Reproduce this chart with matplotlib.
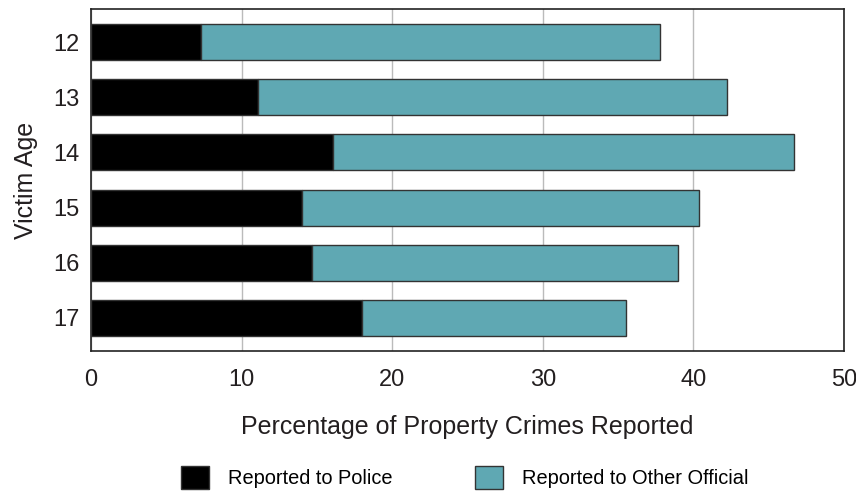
import matplotlib.pyplot as plt
import numpy as np

plt.rcParams['font.family'] = ['Liberation Sans', 'DejaVu Sans']

ages = ['12', '13', '14', '15', '16', '17']
police = [7.3, 11.1, 16.1, 14.0, 14.7, 18.0]
other = [30.45, 31.1, 30.6, 26.35, 24.3, 17.5]

teal = '#5fa8b3'
txt = '#231f20'

fig = plt.figure(figsize=(8.56, 4.91), dpi=100)
ax = fig.add_axes([0.1063, 0.2851, 0.8797, 0.6966])

y = np.arange(len(ages))
ax.barh(y, police, height=0.65, color='black', edgecolor='#333333', linewidth=1,
        label='Reported to Police', zorder=3)
ax.barh(y, other, left=police, height=0.65, color=teal, edgecolor='#333333',
        linewidth=1, label='Reported to Other Official', zorder=3)

ax.set_xlim(0, 50)
ax.set_ylim(5.6, -0.6)
ax.set_yticks(y)
ax.set_yticklabels(ages)
ax.set_xticks([0, 10, 20, 30, 40, 50])
ax.tick_params(length=0, labelsize=17, colors=txt, pad=8)
ax.tick_params(axis='x', pad=13)
ax.grid(axis='x', color='#bbbbbb', linewidth=1, zorder=0)
for s in ax.spines.values():
    s.set_color('#222222')
    s.set_linewidth(1.2)

ax.set_xlabel('Percentage of Property Crimes Reported', fontsize=18, color=txt, labelpad=17)
ax.set_ylabel('Victim Age', fontsize=18, color=txt, labelpad=11)

fig.legend(loc='center', bbox_to_anchor=(0.543, 0.028), ncol=2, frameon=False,
           fontsize=14.4, handlelength=1.4, handleheight=1.4, handletextpad=0.95,
           columnspacing=4.15)

fig.savefig('out.png', dpi=100)
